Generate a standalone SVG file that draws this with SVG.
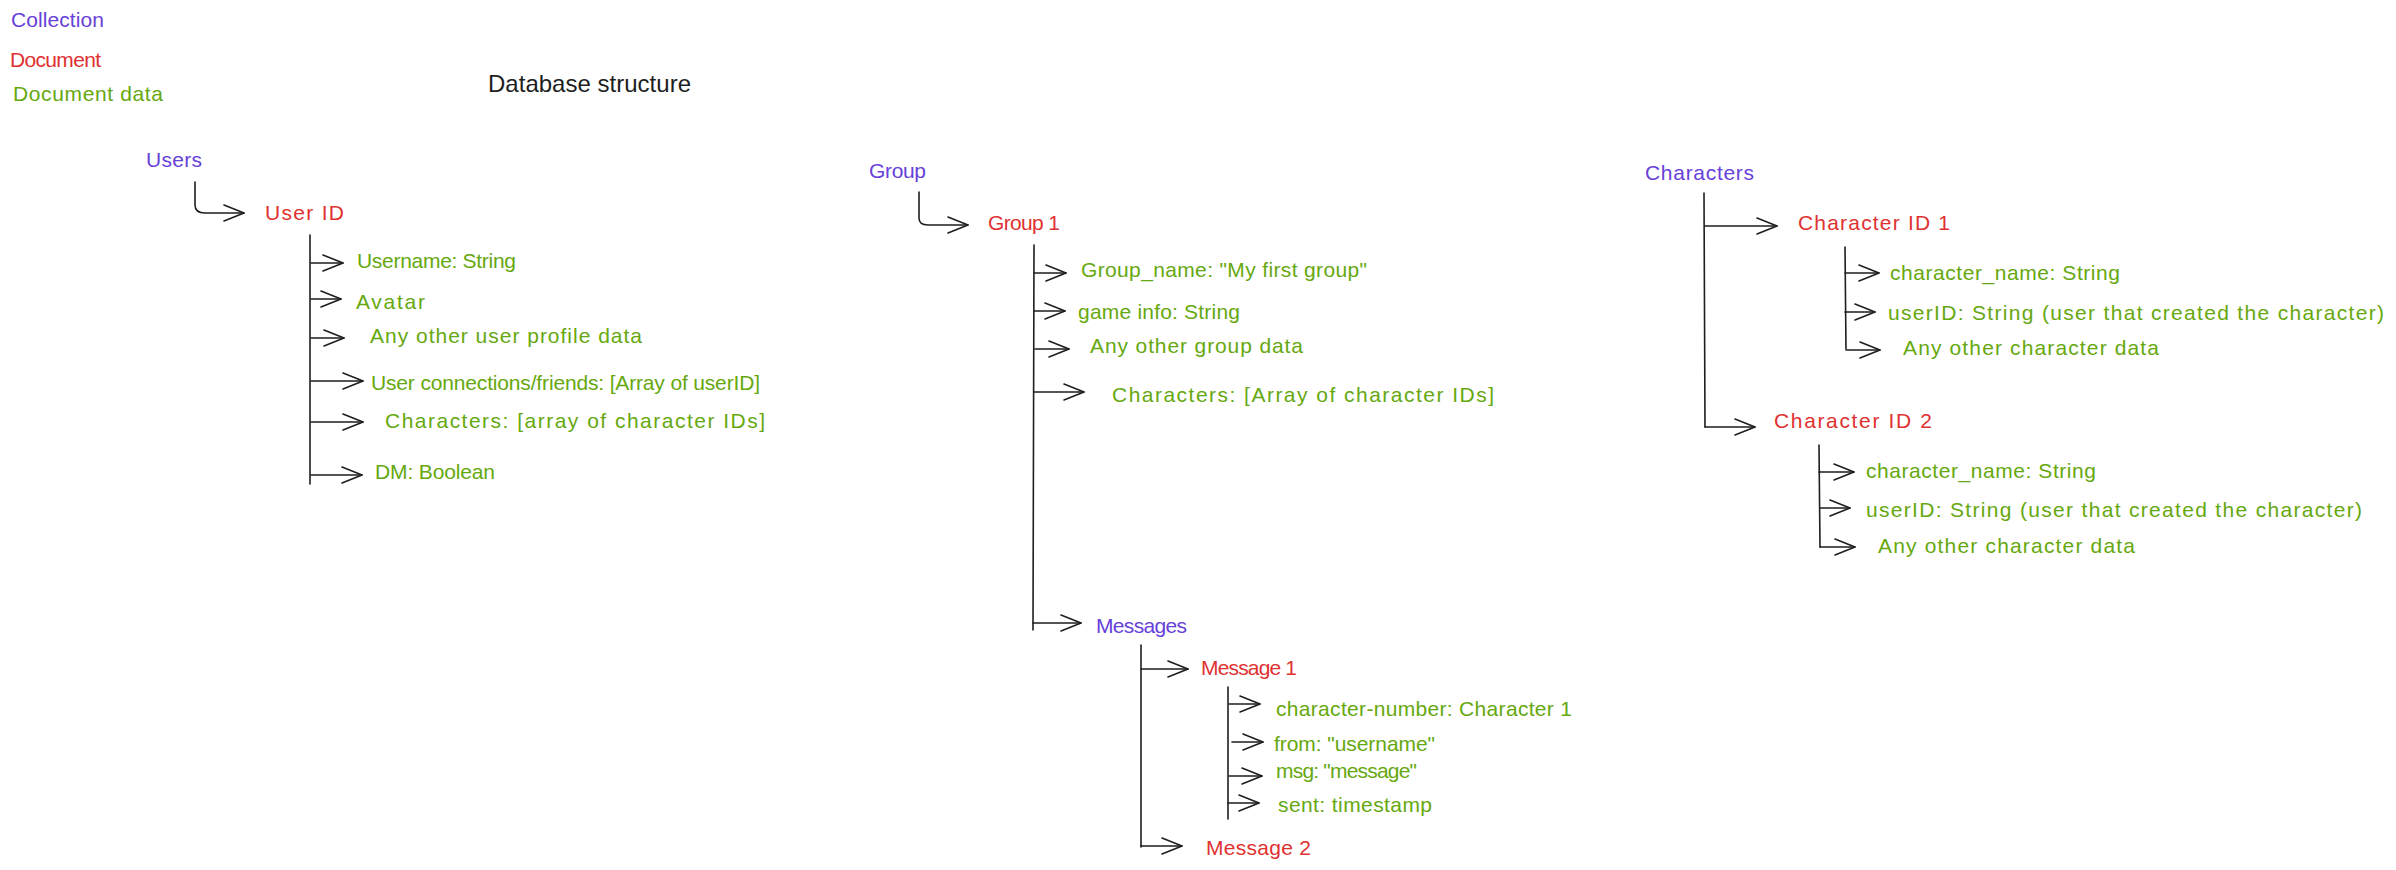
<svg xmlns="http://www.w3.org/2000/svg" width="2396" height="870" viewBox="0 0 2396 870">
<style>
text{font-family:"Liberation Sans",Arial,sans-serif;font-size:21px}
.col{fill:#6741d9}
.doc{fill:#e03131}
.dat{fill:#66a80f}
.ttl{fill:#1e1e1e;font-size:24px}
.ln{fill:none;stroke:#1e1e1e;stroke-width:1.6;stroke-linecap:round;stroke-linejoin:round}
.ar{marker-end:url(#head)}
</style>
<defs>
<marker id="head" markerUnits="userSpaceOnUse" markerWidth="24" markerHeight="20" viewBox="-2 -2 24 20" refX="20" refY="8" orient="auto">
<path d="M0,0 L20,8 L0,16" fill="none" stroke="#1e1e1e" stroke-width="1.6" stroke-linecap="round" stroke-linejoin="round"/>
</marker>
</defs>
<rect width="2396" height="870" fill="#ffffff"/>
<g id="legend">
<text class="col" x="11" y="27" textLength="93" lengthAdjust="spacing">Collection</text>
<text class="doc" x="10" y="67" textLength="91" lengthAdjust="spacing">Document</text>
<text class="dat" x="13" y="101" textLength="150" lengthAdjust="spacing">Document data</text>
<text class="ttl" x="488" y="92" textLength="203" lengthAdjust="spacing">Database structure</text>
</g>
<g id="connectors">
<path class="ln ar" d="M195,182 L195,205 Q195,213 205,213 L244,213"/>
<path class="ln" d="M310,235 L310,484"/>
<path class="ln ar" d="M311,263 L343,263"/>
<path class="ln ar" d="M311,299 L341,299"/>
<path class="ln ar" d="M311,338 L344,338"/>
<path class="ln ar" d="M311,381 L363,381"/>
<path class="ln ar" d="M311,422 L363,422"/>
<path class="ln ar" d="M311,475 L362,475"/>
<path class="ln ar" d="M919,192 L919,218 Q919,225 928,225 L968,225"/>
<path class="ln" d="M1034,245 L1033,630"/>
<path class="ln ar" d="M1034,273 L1066,273"/>
<path class="ln ar" d="M1034,311 L1065,311"/>
<path class="ln ar" d="M1035,349 L1069,349"/>
<path class="ln ar" d="M1034,392 L1084,392"/>
<path class="ln ar" d="M1033,623 L1081,623"/>
<path class="ln" d="M1141,645 L1141,847"/>
<path class="ln ar" d="M1141,669 L1188,669"/>
<path class="ln ar" d="M1141,846 L1182,846"/>
<path class="ln" d="M1228,687 L1228,819"/>
<path class="ln ar" d="M1229,704 L1260,704"/>
<path class="ln ar" d="M1232,742 L1263,742"/>
<path class="ln ar" d="M1229,776 L1262,776"/>
<path class="ln ar" d="M1228,803 L1259,803"/>
<path class="ln" d="M1704,193 L1705,427"/>
<path class="ln ar" d="M1705,226 L1777,226"/>
<path class="ln ar" d="M1705,427 L1755,427"/>
<path class="ln" d="M1845,247 L1846,349"/>
<path class="ln ar" d="M1845,273 L1879,273"/>
<path class="ln ar" d="M1845,312 L1875,312"/>
<path class="ln ar" d="M1846,350 L1880,350"/>
<path class="ln" d="M1819,445 L1820,547"/>
<path class="ln ar" d="M1819,472 L1854,472"/>
<path class="ln ar" d="M1820,508 L1850,508"/>
<path class="ln ar" d="M1820,547 L1855,547"/>
</g>
<g id="users"><text class="col" x="146" y="167" textLength="56" lengthAdjust="spacing">Users</text></g>
<g id="user-id"><text class="doc" x="265" y="220" textLength="79" lengthAdjust="spacing">User ID</text></g>
<g id="user-username"><text class="dat" x="357" y="268" textLength="159" lengthAdjust="spacing">Username: String</text></g>
<g id="user-avatar"><text class="dat" x="356" y="309" textLength="69" lengthAdjust="spacing">Avatar</text></g>
<g id="user-other"><text class="dat" x="370" y="343" textLength="272" lengthAdjust="spacing">Any other user profile data</text></g>
<g id="user-connections"><text class="dat" x="371" y="390" textLength="389" lengthAdjust="spacing">User connections/friends: [Array of userID]</text></g>
<g id="user-characters"><text class="dat" x="385" y="428" textLength="380" lengthAdjust="spacing">Characters: [array of character IDs]</text></g>
<g id="user-dm"><text class="dat" x="375" y="479" textLength="120" lengthAdjust="spacing">DM: Boolean</text></g>
<g id="group"><text class="col" x="869" y="178" textLength="57" lengthAdjust="spacing">Group</text></g>
<g id="group-1"><text class="doc" x="988" y="230" textLength="72" lengthAdjust="spacing">Group 1</text></g>
<g id="group-name"><text class="dat" x="1081" y="277" textLength="286" lengthAdjust="spacing">Group_name: "My first group"</text></g>
<g id="group-gameinfo"><text class="dat" x="1078" y="319" textLength="162" lengthAdjust="spacing">game info: String</text></g>
<g id="group-other"><text class="dat" x="1090" y="353" textLength="213" lengthAdjust="spacing">Any other group data</text></g>
<g id="group-characters"><text class="dat" x="1112" y="402" textLength="382" lengthAdjust="spacing">Characters: [Array of character IDs]</text></g>
<g id="messages"><text class="col" x="1096" y="633" textLength="91" lengthAdjust="spacing">Messages</text></g>
<g id="message-1"><text class="doc" x="1201" y="675" textLength="96" lengthAdjust="spacing">Message 1</text></g>
<g id="msg-charnum"><text class="dat" x="1276" y="716" textLength="296" lengthAdjust="spacing">character-number: Character 1</text></g>
<g id="msg-from"><text class="dat" x="1274" y="751" textLength="161" lengthAdjust="spacing">from: "username"</text></g>
<g id="msg-msg"><text class="dat" x="1276" y="778" textLength="141" lengthAdjust="spacing">msg: "message"</text></g>
<g id="msg-sent"><text class="dat" x="1278" y="812" textLength="154" lengthAdjust="spacing">sent: timestamp</text></g>
<g id="message-2"><text class="doc" x="1206" y="855" textLength="105" lengthAdjust="spacing">Message 2</text></g>
<g id="characters"><text class="col" x="1645" y="180" textLength="109" lengthAdjust="spacing">Characters</text></g>
<g id="character-id-1"><text class="doc" x="1798" y="230" textLength="152" lengthAdjust="spacing">Character ID 1</text></g>
<g id="c1-name"><text class="dat" x="1890" y="280" textLength="230" lengthAdjust="spacing">character_name: String</text></g>
<g id="c1-userid"><text class="dat" x="1888" y="320" textLength="496" lengthAdjust="spacing">userID: String (user that created the character)</text></g>
<g id="c1-other"><text class="dat" x="1903" y="355" textLength="256" lengthAdjust="spacing">Any other character data</text></g>
<g id="character-id-2"><text class="doc" x="1774" y="428" textLength="158" lengthAdjust="spacing">Character ID 2</text></g>
<g id="c2-name"><text class="dat" x="1866" y="478" textLength="230" lengthAdjust="spacing">character_name: String</text></g>
<g id="c2-userid"><text class="dat" x="1866" y="517" textLength="496" lengthAdjust="spacing">userID: String (user that created the character)</text></g>
<g id="c2-other"><text class="dat" x="1878" y="553" textLength="257" lengthAdjust="spacing">Any other character data</text></g>
</svg>
